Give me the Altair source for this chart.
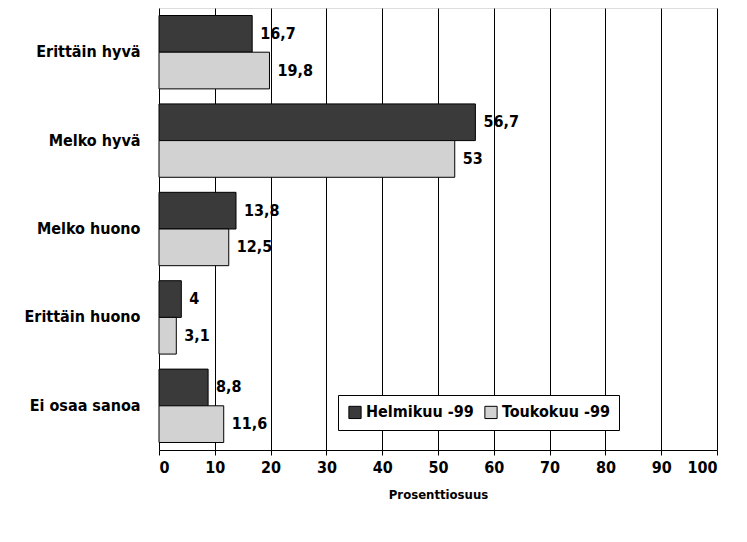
import altair as alt
import pandas as pd

categories = ["Erittäin hyvä", "Melko hyvä", "Melko huono", "Erittäin huono", "Ei osaa sanoa"]
series = ["Helmikuu -99", "Toukokuu -99"]
helmikuu = [16.7, 56.7, 13.8, 4, 8.8]
toukokuu = [19.8, 53, 12.5, 3.1, 11.6]
x_ticks = [0, 10, 20, 30, 40, 50, 60, 70, 80, 90, 100]

rows = []
for c, h, t in zip(categories, helmikuu, toukokuu):
    for s, v in ((series[0], h), (series[1], t)):
        rows.append({"cat": c, "series": s, "value": v,
                     "label": (f"{v:g}").replace(".", ",")})
df = pd.DataFrame(rows)

FONT = "DejaVu Sans Condensed, Liberation Sans, sans-serif"

base = alt.Chart(df).encode(
    y=alt.Y("cat:N", sort=categories, title=None,
            scale=alt.Scale(paddingInner=0.17, paddingOuter=0.085),
            axis=alt.Axis(labelFont=FONT, labelFontSize=16, labelFontWeight="bold",
                          labelColor="black", ticks=False, domain=False, labelPadding=19,
                          grid=False)),
    yOffset=alt.YOffset("series:N", sort=series),
)

bars = base.mark_bar(stroke="black", strokeWidth=1).encode(
    x=alt.X("value:Q", title="Prosenttiosuus",
            scale=alt.Scale(domain=[0, 100], nice=False),
            axis=alt.Axis(values=x_ticks, labelFont=FONT, labelFontSize=16,
                          labelFontWeight="bold", labelColor="black",
                          titleFont=FONT, titleFontSize=13, titleFontWeight="bold",
                          titleColor="black", titlePadding=13,
                          tickColor="black", tickSize=5, domainColor="black",
                          grid=True, gridColor="black", gridOpacity=1, gridWidth=1,
                          labelPadding=4)),
    fill=alt.Fill("series:N", sort=series,
                  scale=alt.Scale(domain=series, range=["#3a3a3a", "#d2d2d2"]),
                  legend=alt.Legend(title=None, orient="none", direction="horizontal",
                                    legendX=179, legendY=387,
                                    labelFont=FONT, labelFontSize=16,
                                    labelFontWeight="bold", labelColor="black",
                                    symbolType="square", symbolSize=150,
                                    symbolStrokeColor="black", symbolStrokeWidth=1,
                                    fillColor="white", strokeColor="black",
                                    padding=9, columnPadding=8, labelOffset=3)),
)

labels = base.mark_text(align="left", baseline="middle", dx=8, font=FONT,
                        fontSize=16, fontWeight="bold", color="black").encode(
    x=alt.X("value:Q"),
    text="label:N",
)

chart = (bars + labels).properties(
    width=558, height=442,
    autosize=alt.AutoSizeParams(type="none"),
    padding={"left": 151, "top": 0, "right": 22, "bottom": 84},
).configure_view(stroke="black", strokeWidth=1).configure(background="white")

chart.save("out.html", embed_options={"renderer": "svg", "actions": False})
